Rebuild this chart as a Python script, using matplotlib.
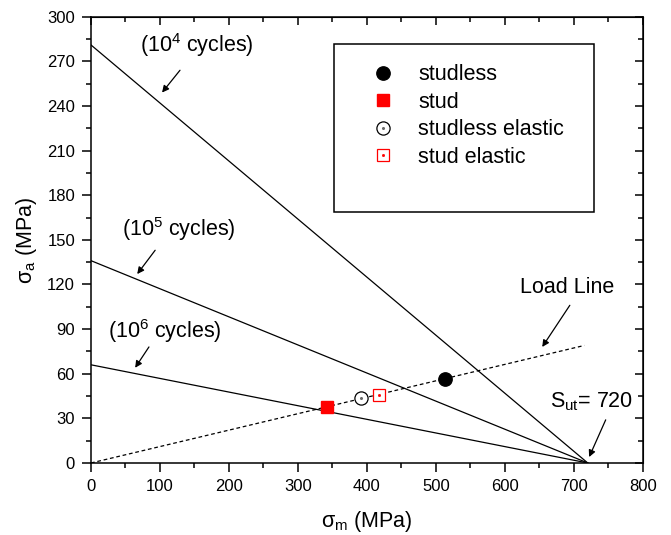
import numpy as np
import matplotlib
matplotlib.use("Agg")
import matplotlib.pyplot as plt
from matplotlib.lines import Line2D
from matplotlib.patches import Rectangle
from matplotlib.legend_handler import HandlerTuple

plt.rcParams["font.family"] = ["Liberation Sans", "DejaVu Sans"]
plt.rcParams["mathtext.fontset"] = "custom"
plt.rcParams["mathtext.rm"] = "Liberation Sans"
plt.rcParams["mathtext.it"] = "Liberation Sans"
plt.rcParams["mathtext.default"] = "rm"

# Goodman lines: intercept on sigma_a axis, all ending at S_ut
sut = 720
intercepts = [281, 136, 66]
cycle_labels = ["(10$^4$ cycles)", "(10$^5$ cycles)", "(10$^6$ cycles)"]

# Load line
load_x = [0, 715]
load_y = [0, 79]

# data points (sigma_m, sigma_a)
studless = (513, 56.5)
stud = (342, 37.5)
studless_el = (392, 43.5)
stud_el = (417, 45.5)

fig = plt.figure(figsize=(6.71, 5.35), dpi=100)
ax = fig.add_axes([0.1356, 0.1346, 0.8226, 0.8342])

for b in intercepts:
    ax.plot([0, sut], [b, 0], color="black", lw=0.9)
ax.plot(load_x, load_y, color="black", lw=0.9, ls=(0, (3, 2.2)))

ax.plot(*studless, "o", color="black", ms=9.6, zorder=5)
ax.plot(*stud, "s", color="red", ms=8.6, zorder=5)
ax.plot(*studless_el, "o", mfc="white", mec="black", mew=0.9, ms=9.5, zorder=5)
ax.plot(*studless_el, "o", color="dimgray", ms=1.2, zorder=6)
ax.plot(*stud_el, "s", mfc="white", mec="red", mew=0.9, ms=8.6, zorder=5)
ax.plot(*stud_el, "s", color="red", ms=1.0, zorder=6)

xt = np.arange(0, 801, 100)
xm = np.arange(0, 801, 50)
yt = np.arange(0, 301, 30)
ym = np.arange(0, 301, 15)

ax.set_xlim(0, 800)
ax.set_ylim(0, 300)
ax.set_xticks(xt)
ax.set_xticks(xm, minor=True)
ax.set_yticks(yt)
ax.set_yticks(ym, minor=True)
ax.tick_params(which="both", direction="out", labelsize=12, pad=5, width=1.1)
ax.tick_params(which="major", length=6.5)
ax.tick_params(which="minor", length=3.6)
for s in ax.spines.values():
    s.set_linewidth(1.1)

# mirrored ticks pointing inward on top and right
top = ax.secondary_xaxis("top")
top.set_xticks(xt)
top.set_xticks(xm, minor=True)
top.tick_params(which="both", direction="in", labeltop=False, width=1.1)
top.tick_params(which="major", length=6)
top.tick_params(which="minor", length=3.5)
right = ax.secondary_yaxis("right")
right.set_yticks(yt)
right.set_yticks(ym, minor=True)
right.tick_params(which="both", direction="in", labelright=False, width=1.1)
right.tick_params(which="major", length=6)
right.tick_params(which="minor", length=3.5)

ax.set_xlabel(r"$\sigma_m$ (MPa)", fontsize=15.5, labelpad=11)
ax.set_ylabel(r"$\sigma_a$ (MPa)", fontsize=15.5, labelpad=6)

arrow = dict(arrowstyle="-|>", color="black", lw=0.9, mutation_scale=10,
             shrinkA=0, shrinkB=0)
ax.annotate("", xy=(103, 249), xytext=(129, 264), arrowprops=arrow)
ax.annotate("", xy=(67, 127), xytext=(93, 143), arrowprops=arrow)
ax.annotate("", xy=(64, 64), xytext=(84, 78), arrowprops=arrow)
ax.annotate("", xy=(654, 78), xytext=(694, 106), arrowprops=arrow)
ax.annotate("", xy=(722, 4), xytext=(746, 29), arrowprops=arrow)

txt_pos = [(154, 281), (128, 157), (107, 89)]
for (tx, ty), lab in zip(txt_pos, cycle_labels):
    ax.text(tx, ty, lab, fontsize=15.5, ha="center", va="center")
ax.text(690, 118, "Load Line", fontsize=15.5, ha="center", va="center")
ax.text(726, 41, r"S$_{ut}$= 720", fontsize=15.5, ha="center", va="center")

# legend box
ax.add_patch(Rectangle((0.440, 0.562), 0.471, 0.377, transform=ax.transAxes,
                       fill=False, lw=1.1, zorder=7))
h1 = Line2D([], [], ls="", marker="o", color="black", ms=9.6)
h2 = Line2D([], [], ls="", marker="s", color="red", ms=8.6)
h3 = (Line2D([], [], ls="", marker="o", mfc="white", mec="black", mew=0.9, ms=9.5),
      Line2D([], [], ls="", marker="o", color="dimgray", ms=1.2))
h4 = (Line2D([], [], ls="", marker="s", mfc="white", mec="red", mew=0.9, ms=8.6),
      Line2D([], [], ls="", marker="s", color="red", ms=1.0))
ax.legend([h1, h2, h3, h4], ["studless", "stud", "studless elastic", "stud elastic"],
          handler_map={tuple: HandlerTuple(ndivide=1)},
          loc="upper left", bbox_to_anchor=(0.510, 0.893), frameon=False,
          fontsize=15.5, handlelength=1.0, handletextpad=1.13, labelspacing=0.3,
          borderaxespad=0, borderpad=0)

fig.savefig("out.png", dpi=100)
